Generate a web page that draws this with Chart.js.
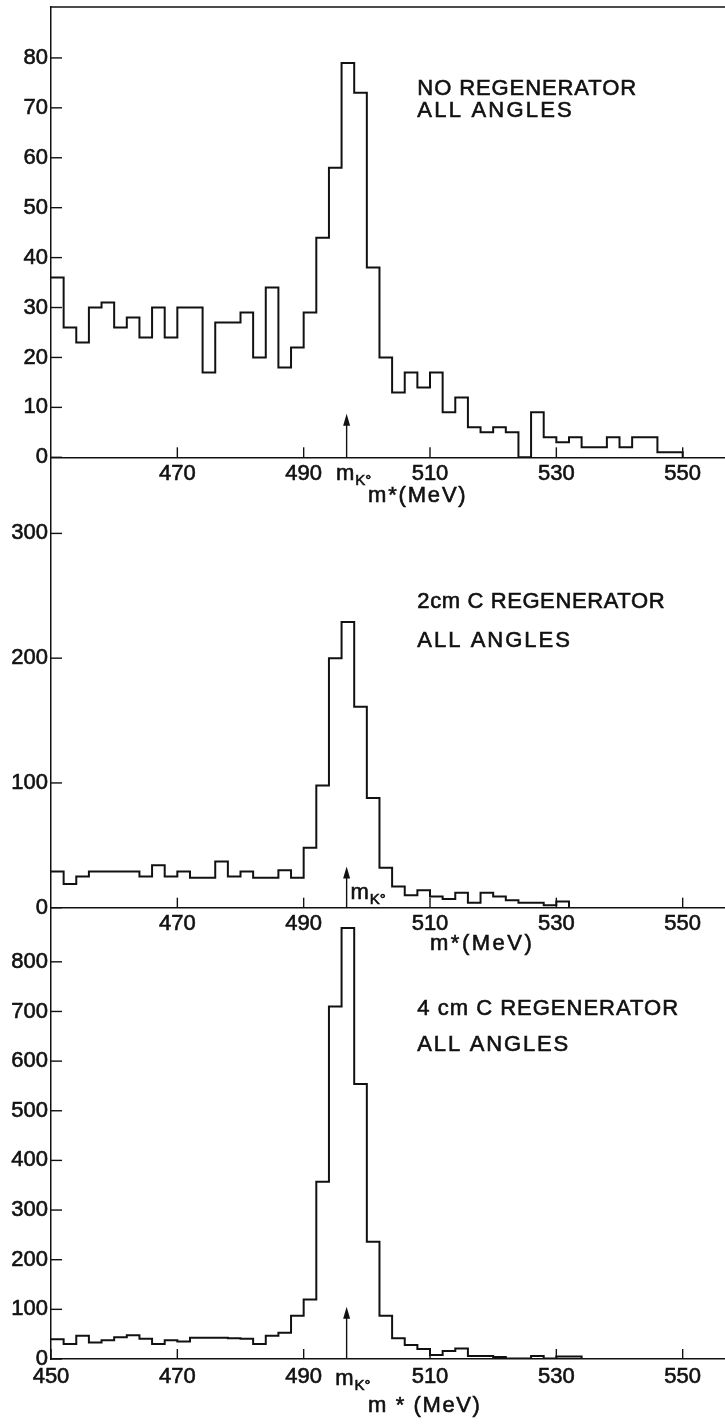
<!DOCTYPE html>
<html>
<head>
<meta charset="utf-8">
<script src="https://cdn.jsdelivr.net/npm/chart.js@4.4.0/dist/chart.umd.min.js"></script>
<style>
  html, body { margin: 0; padding: 0; background: #fff; }
  #wrap { position: relative; width: 725px; height: 1425px; overflow: hidden; }
  #wrap canvas { position: absolute; left: 0; top: 0; }
</style>
</head>
<body>
<div id="wrap">
  <canvas id="noRegen" width="725" height="1425"></canvas>
  <canvas id="regen2cm" width="725" height="1425"></canvas>
  <canvas id="regen4cm" width="725" height="1425"></canvas>
</div>
<script>
// m* bin edges in MeV (2 MeV bins)
const binEdges = [450, 452, 454, 456, 458, 460, 462, 464, 466, 468,
                  470, 472, 474, 476, 478, 480, 482, 484, 486, 488,
                  490, 492, 494, 496, 498, 500, 502, 504, 506, 508,
                  510, 512, 514, 516, 518, 520, 522, 524, 526, 528,
                  530, 532, 534, 536, 538, 540, 542, 544, 546, 548, 550];

// events per bin
const countsNoRegen = [36, 26, 23, 30, 31, 26, 28, 24, 30, 24,
                       30, 30, 17, 27, 27, 29, 20, 34, 18, 22,
                       29, 44, 58, 79, 73, 38, 20, 13, 17, 14,
                       17, 9, 12, 6, 5, 6, 5, 0, 9, 4,
                       3, 4, 2, 2, 4, 2, 4, 4, 1, 1];
const counts2cm = [29, 19, 25, 29, 29, 29, 29, 25, 34, 25,
                   29, 24, 24, 37, 25, 29, 24, 24, 30, 24,
                   48, 98, 200, 229, 161, 88, 32, 17, 10, 14,
                   9, 7, 12, 4, 12, 9, 6, 4, 4, 2,
                   5];
const counts4cm = [40, 30, 47, 33, 38, 44, 48, 41, 30, 38,
                   35, 43, 43, 43, 42, 41, 30, 47, 53, 87,
                   120, 357, 710, 868, 554, 236, 87, 42, 28, 20,
                   8, 16, 21, 6, 6, 4, 1, 1, 6, 1,
                   5, 5];

// tick labels
const xTicksUpper = [470, 490, 510, 530, 550];
const xTicksLower = [450, 470, 490, 510, 530, 550];
const yTicksNoRegen = [0, 10, 20, 30, 40, 50, 60, 70, 80];
const yTicks2cm = [0, 100, 200, 300];
const yTicks4cm = [0, 100, 200, 300, 400, 500, 600, 700, 800];

const ink = '#111';
const face = '"Liberation Sans", Arial, sans-serif';

function line(ctx, x1, y1, x2, y2) {
  ctx.beginPath(); ctx.moveTo(x1, y1); ctx.lineTo(x2, y2); ctx.stroke();
}

function inkText(ctx, text, x, y) {
  ctx.fillText(text, x, y);
  ctx.strokeText(text, x, y);
}

// inward ticks, frame, m_K arrow and the texts of each panel
const panelMarks = {
  id: 'panelMarks',
  afterDraw(chart, args, opts) {
    const { ctx, chartArea: a, scales: { x, y } } = chart;
    ctx.save();
    ctx.strokeStyle = ink;
    ctx.fillStyle = ink;
    ctx.lineWidth = 1.4;
    y.ticks.forEach(t => {
      const py = y.getPixelForValue(t.value);
      line(ctx, a.left, py, a.left + 11, py);
    });
    x.ticks.forEach(t => {
      const px = x.getPixelForValue(t.value);
      line(ctx, px, a.bottom, px, a.bottom - 10);
    });
    if (opts.frameTop) line(ctx, a.left, a.top, chart.width, a.top);

    // arrow at the K0 mass
    const ax = x.getPixelForValue(opts.arrowAt);
    const y0 = y.getPixelForValue(0);
    const yt = y.getPixelForValue(opts.arrowTip);
    line(ctx, ax, y0, ax, yt + 6);
    ctx.beginPath();
    ctx.moveTo(ax, yt);
    ctx.lineTo(ax - 3.5, yt + 12);
    ctx.lineTo(ax + 3.5, yt + 12);
    ctx.closePath();
    ctx.fill();

    ctx.textBaseline = 'alphabetic';
    ctx.textAlign = 'left';
    ctx.lineWidth = 0.6;
    opts.texts.forEach(t => {
      const px = x.getPixelForValue(t.x);
      const py = y.getPixelForValue(t.y);
      ctx.letterSpacing = (t.spacing || 0) + 'px';
      ctx.font = (t.size || 22) + 'px ' + face;
      inkText(ctx, t.text, px, py);
    });
    // m_K0 label
    const mk = opts.mk;
    const mx = x.getPixelForValue(mk.x);
    const my = y.getPixelForValue(mk.y);
    ctx.letterSpacing = '0px';
    ctx.font = '22px ' + face;
    inkText(ctx, 'm', mx, my);
    const mw = ctx.measureText('m').width;
    ctx.font = '15px ' + face;
    inkText(ctx, 'K°', mx + mw + 1, my + 5);
    ctx.restore();
  }
};

function makePanel(id, counts, cfg) {
  const points = counts.map((c, i) => ({ x: binEdges[i], y: c }));
  points.push({ x: binEdges[counts.length], y: 0 });
  const tickFont = { family: face, size: 22 };
  return new Chart(document.getElementById(id), {
    type: 'line',
    data: {
      datasets: [{
        data: points,
        stepped: 'before',
        borderColor: ink,
        borderWidth: 2,
        pointRadius: 0,
        fill: false
      }]
    },
    options: {
      responsive: false,
      animation: false,
      devicePixelRatio: 1,
      layout: { autoPadding: false, padding: { left: 0, right: 0, top: cfg.padTop, bottom: cfg.padBottom } },
      plugins: {
        legend: { display: false },
        tooltip: { enabled: false },
        panelMarks: cfg.marks
      },
      scales: {
        x: {
          type: 'linear',
          min: 450,
          max: 556.7,
          afterBuildTicks: s => { s.ticks = cfg.xTicks.map(v => ({ value: v })); },
          afterFit: s => { s.height = 40; s.paddingLeft = 0; s.paddingRight = 0; },
          grid: { drawOnChartArea: false, drawTicks: false },
          border: { display: true, color: ink, width: 1.5 },
          ticks: { color: ink, font: tickFont, padding: cfg.xPad, maxRotation: 0, autoSkip: false,
                   textStrokeColor: ink, textStrokeWidth: 0.6 }
        },
        y: {
          type: 'linear',
          min: 0,
          max: cfg.yMax,
          afterBuildTicks: s => { s.ticks = cfg.yTicks.map(v => ({ value: v })); },
          afterFit: s => { s.width = 51; s.paddingTop = 0; s.paddingBottom = 0; },
          grid: { drawOnChartArea: false, drawTicks: false },
          border: { display: true, color: ink, width: 1.5 },
          ticks: { color: ink, font: tickFont, padding: 3, autoSkip: false,
                   textStrokeColor: ink, textStrokeWidth: 0.6 }
        }
      }
    },
    plugins: [panelMarks]
  });
}

makePanel('noRegen', countsNoRegen, {
  padTop: 7, padBottom: 1425 - 457.3 - 40, yMax: 90.2, xPad: 3,
  xTicks: xTicksUpper, yTicks: yTicksNoRegen,
  marks: {
    frameTop: true, arrowAt: 496.8, arrowTip: 8.7,
    mk: { x: 495.1, y: -4.5 },
    texts: [
      { text: 'NO REGENERATOR', x: 508, y: 72.6, spacing: 0.9 },
      { text: 'ALL ANGLES', x: 508, y: 68.1, spacing: 2.2 },
      { text: 'm*(MeV)', x: 500.2, y: -9, spacing: 1.8 }
    ]
  }
});

makePanel('regen2cm', counts2cm, {
  padTop: 457.3, padBottom: 1425 - 907.7 - 40, yMax: 361, xPad: 3,
  xTicks: xTicksUpper, yTicks: yTicks2cm,
  marks: {
    frameTop: false, arrowAt: 496.8, arrowTip: 33,
    mk: { x: 497.4, y: 6.7 },
    texts: [
      { text: '2cm C REGENERATOR', x: 508, y: 240.3, spacing: 0.6 },
      { text: 'ALL ANGLES', x: 508, y: 209.3, spacing: 2 },
      { text: 'm*(MeV)', x: 510, y: -33.9, spacing: 2.5 }
    ]
  }
});

makePanel('regen4cm', counts4cm, {
  padTop: 907.7, padBottom: 1425 - 1359 - 40, yMax: 909, xPad: 4.5,
  xTicks: xTicksLower, yTicks: yTicks4cm,
  marks: {
    frameTop: false, arrowAt: 496.8, arrowTip: 105,
    mk: { x: 495, y: -52.4 },
    texts: [
      { text: '4 cm C REGENERATOR', x: 508, y: 693.5, spacing: 1 },
      { text: 'ALL ANGLES', x: 508, y: 619.6, spacing: 1.8 },
      { text: 'm * (MeV)', x: 500.2, y: -106.9, spacing: 1.6 }
    ]
  }
});
</script>
</body>
</html>
